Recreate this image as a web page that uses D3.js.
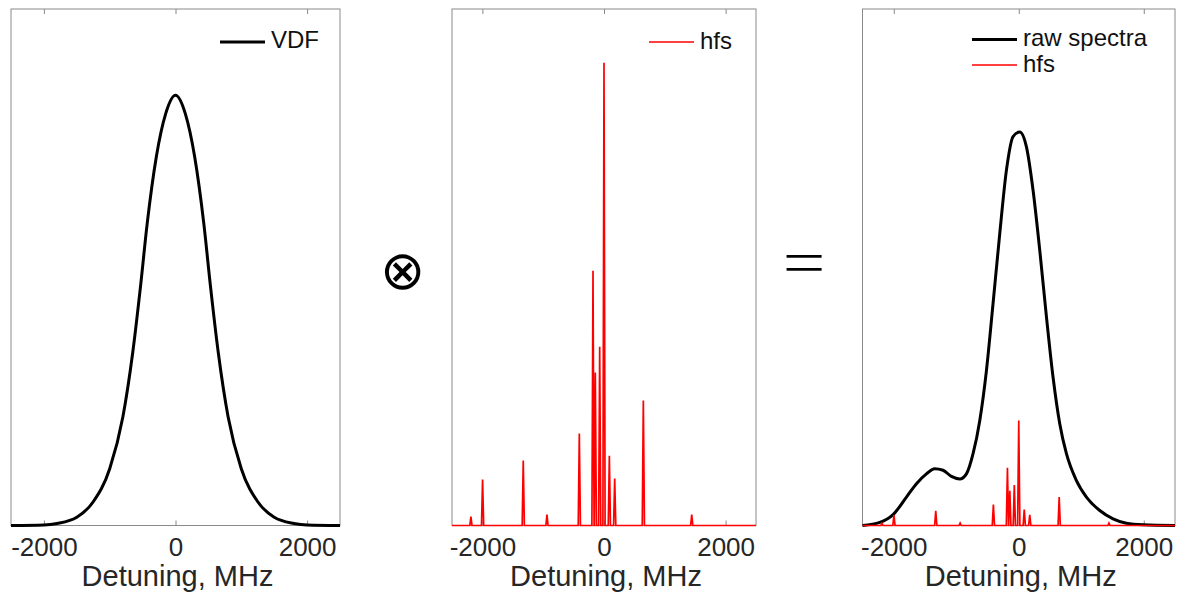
<!DOCTYPE html>
<html lang="en">
<head>
<meta charset="utf-8">
<script src="https://d3js.org/d3.v7.min.js"></script>
<style>
  body { margin: 0; background: #fff; }
  text { font-family: "Liberation Sans", Arial, Helvetica, sans-serif; }
</style>
</head>
<body>
<div id="chart"></div>
<script>

// detuning axis (MHz), shared by the three panels
var xDomain = [-2500, 2500];
var xTicks = [-2000, 0, 2000];
var xLabel = "Detuning, MHz";

// left panel: velocity distribution
var vdfX = [-2500, -2000, -1800, -1500, -1250, -1000, -800, -650, -530, -430, -290, -150, 0,
            150, 290, 430, 530, 650, 800, 1000, 1250, 1500, 1800, 2000, 2500];
var vdfY = [0, 0.001, 0.004, 0.016, 0.046, 0.11, 0.21, 0.335, 0.465, 0.585, 0.715, 0.797, 0.833,
            0.797, 0.715, 0.585, 0.465, 0.335, 0.21, 0.11, 0.046, 0.016, 0.004, 0.001, 0];

// middle panel: hyperfine lines (position MHz, height)
var hfsPos = [-2189, -1997, -1328, -938, -406, -181, -143, -71, 0, 88, 176, 647, 1443];
var hfsAmp = [0.017, 0.089, 0.126, 0.021, 0.178, 0.493, 0.296, 0.346, 0.896, 0.135, 0.091, 0.242, 0.021];

// right panel: raw spectrum
var rawX = [-2500, -2224, -2011, -1797, -1637, -1477, -1344, -1211, -1077, -944, -837, -731, -624,
            -517, -411, -304, -197, -91, 16, 123, 229, 336, 443, 549, 656, 763, 923, 1083,
            1296, 1509, 1723, 1989, 2500];
var rawY = [0, 0.006, 0.021, 0.055, 0.081, 0.100, 0.110, 0.107, 0.095, 0.090, 0.100, 0.139, 0.203,
            0.300, 0.430, 0.565, 0.688, 0.753, 0.762, 0.733, 0.649, 0.533, 0.404, 0.287, 0.197, 0.139, 0.087, 0.055,
            0.029, 0.013, 0.0045, 0.0014, 0];
var hfsScaleRaw = 0.227;   // hfs drawn smaller under the raw spectrum

var W = 1177, H = 597;
var plotTop = 9, plotBottom = 525.5;
var panels = [
  {left: 11, right: 340},
  {left: 452, right: 756},
  {left: 862.5, right: 1175}
];

var svg = d3.select("#chart").append("svg")
  .attr("width", W)
  .attr("height", H);

var y = d3.scaleLinear().domain([0, 1]).range([plotBottom, plotTop]);

// build a frame for each panel and hand back its x scale
function frame(p) {
  var x = d3.scaleLinear().domain(xDomain).range([p.left, p.right]);
  var g = svg.append("g");

  g.append("g")
    .attr("transform", "translate(0," + plotBottom + ")")
    .call(d3.axisBottom(x).tickValues(xTicks).tickSize(-5).tickPadding(12)
      .tickFormat(function(d) { return String(d); }))
    .call(function(a) { a.select(".domain").remove(); })
    .call(function(a) {
      a.selectAll("line").attr("stroke", "#888");
      a.selectAll("text").attr("fill", "#262626").style("font-size", "26px")
        .style("font-family", "'Liberation Sans', Arial, sans-serif");
    });

  g.append("g")
    .attr("transform", "translate(0," + plotTop + ")")
    .call(d3.axisTop(x).tickValues(xTicks).tickSize(-5).tickFormat(""))
    .call(function(a) { a.select(".domain").remove(); })
    .call(function(a) { a.selectAll("line").attr("stroke", "#888"); });

  g.append("rect")
    .attr("x", p.left)
    .attr("y", plotTop)
    .attr("width", p.right - p.left)
    .attr("height", plotBottom - plotTop)
    .attr("fill", "none")
    .attr("stroke", "#8a8a8a")
    .attr("stroke-width", 1);

  g.append("text")
    .attr("x", (p.left + p.right) / 2 + 2)
    .attr("y", 586)
    .attr("text-anchor", "middle")
    .attr("fill", "#262626")
    .style("font-size", "29px")
    .text(xLabel);

  p.g = g;
  return x;
}

function legendItem(g, x0, yl, color, w, label, yt) {
  g.append("line")
    .attr("x1", x0).attr("x2", x0 + 45)
    .attr("y1", yl).attr("y2", yl)
    .attr("stroke", color)
    .attr("stroke-width", w);
  g.append("text")
    .attr("x", x0 + 51)
    .attr("y", yt)
    .attr("fill", "#111")
    .style("font-size", "24px")
    .text(label);
}

// hfs stick spectrum: narrow peaks on a zero baseline
function hfsPoints(scale) {
  var pts = [[xDomain[0], 0]];
  hfsPos.forEach(function(p, i) {
    pts.push([p - 18, 0], [p, hfsAmp[i] * scale], [p + 18, 0]);
  });
  pts.push([xDomain[1], 0]);
  return pts;
}

// ---- left panel: VDF
var x1 = frame(panels[0]);
var smooth1 = d3.line()
  .x(function(d) { return x1(d[0]); })
  .y(function(d) { return y(d[1]); })
  .curve(d3.curveMonotoneX);
panels[0].g.append("path")
  .datum(d3.zip(vdfX, vdfY))
  .attr("d", smooth1)
  .attr("fill", "none")
  .attr("stroke", "#000")
  .attr("stroke-width", 3);
legendItem(panels[0].g, 220, 42, "#000", 3, "VDF", 48);

// ---- middle panel: hfs
var x2 = frame(panels[1]);
var sticks2 = d3.line()
  .x(function(d) { return x2(d[0]); })
  .y(function(d) { return y(d[1]); });
panels[1].g.append("path")
  .datum(hfsPoints(1))
  .attr("d", sticks2)
  .attr("fill", "none")
  .attr("stroke", "#f00")
  .attr("stroke-width", 1.7);
legendItem(panels[1].g, 649, 42, "#f00", 1.6, "hfs", 49);

// ---- right panel: raw spectra + scaled hfs
var x3 = frame(panels[2]);
var smooth3 = d3.line()
  .x(function(d) { return x3(d[0]); })
  .y(function(d) { return y(d[1]); })
  .curve(d3.curveMonotoneX);
panels[2].g.append("path")
  .datum(d3.zip(rawX, rawY))
  .attr("d", smooth3)
  .attr("fill", "none")
  .attr("stroke", "#000")
  .attr("stroke-width", 3);
var sticks3 = d3.line()
  .x(function(d) { return x3(d[0]); })
  .y(function(d) { return y(d[1]); });
panels[2].g.append("path")
  .datum(hfsPoints(hfsScaleRaw))
  .attr("d", sticks3)
  .attr("fill", "none")
  .attr("stroke", "#f00")
  .attr("stroke-width", 1.7);
legendItem(panels[2].g, 972, 39.5, "#000", 3, "raw spectra", 46);
legendItem(panels[2].g, 972, 65, "#f00", 1.6, "hfs", 72);

// operators between the panels
svg.append("text")
  .attr("x", 402)
  .attr("y", 289)
  .attr("text-anchor", "middle")
  .style("font-family", "'DejaVu Sans', sans-serif")
  .style("font-weight", 200)
  .style("font-size", "54px")
  .text("\u2297");

svg.append("text")
  .attr("transform", "translate(804,280.5) scale(1.47,1)")
  .attr("text-anchor", "middle")
  .style("font-family", "Inter, sans-serif")
  .style("font-weight", 200)
  .style("font-size", "64px")
  .text("=");

</script>
</body>
</html>
